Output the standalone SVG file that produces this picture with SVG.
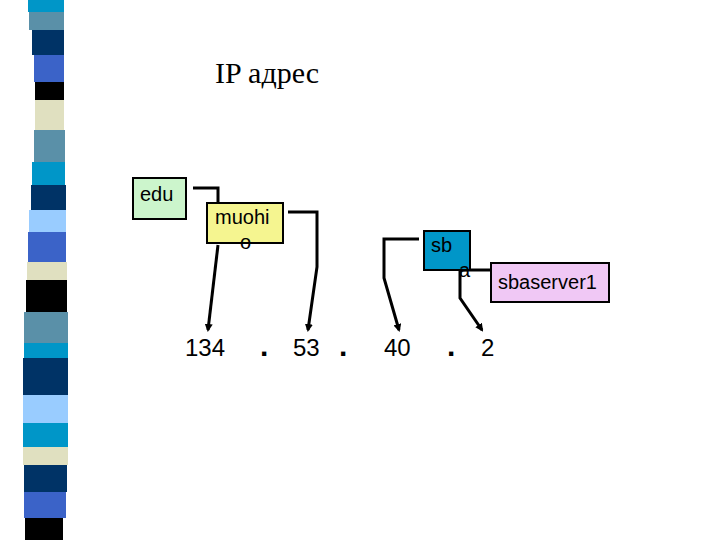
<svg xmlns="http://www.w3.org/2000/svg" width="720" height="540" viewBox="0 0 720 540">
<defs>
<style>
.t{font-family:"Liberation Sans",Arial,sans-serif;font-size:20px;fill:#000}
.n{font-family:"Liberation Sans",Arial,sans-serif;font-size:24px;fill:#000}
.d{font-family:"Liberation Sans",Arial,sans-serif;font-size:30px;font-weight:bold;fill:#000}
.b{stroke:#000;stroke-width:2}
.c{fill:none;stroke:#000;stroke-width:3}
</style>
<marker id="ah" markerWidth="8" markerHeight="8" refX="6" refY="4" orient="auto" markerUnits="userSpaceOnUse" viewBox="0 0 8 8"><path d="M0,0 L8,4 L0,8 z" fill="#000"/></marker>
</defs>
<rect width="720" height="540" fill="#fff"/>
<g id="stripes">
<rect x="28" y="0" width="36" height="12" fill="#0096c8"/>
<rect x="29" y="12" width="35" height="18" fill="#5a90a8"/>
<rect x="32" y="30" width="32" height="25" fill="#003366"/>
<rect x="34" y="55" width="30" height="27" fill="#3b63c8"/>
<rect x="35" y="82" width="29" height="18" fill="#000"/>
<rect x="35" y="100" width="29" height="30" fill="#e0e0c0"/>
<rect x="34" y="130" width="31" height="32" fill="#5a90a8"/>
<rect x="32" y="162" width="33" height="23" fill="#0096c8"/>
<rect x="31" y="185" width="35" height="25" fill="#003366"/>
<rect x="29" y="210" width="37" height="22" fill="#99ccff"/>
<rect x="28" y="232" width="38" height="30" fill="#3b63c8"/>
<rect x="27" y="262" width="40" height="18" fill="#e0e0c0"/>
<rect x="26" y="280" width="41" height="32" fill="#000"/>
<rect x="24" y="312" width="44" height="31" fill="#5a90a8"/>
<rect x="24" y="343" width="44" height="15" fill="#0096c8"/>
<rect x="23" y="358" width="45" height="37" fill="#003366"/>
<rect x="23" y="395" width="45" height="28" fill="#99ccff"/>
<rect x="23" y="423" width="45" height="24" fill="#0096c8"/>
<rect x="23" y="447" width="45" height="18" fill="#e0e0c0"/>
<rect x="24" y="465" width="43" height="27" fill="#003366"/>
<rect x="24" y="492" width="42" height="26" fill="#3b63c8"/>
<rect x="25" y="518" width="38" height="22" fill="#000"/>
</g>
<text x="215" y="83" font-family="Liberation Serif,serif" font-size="30">IP адрес</text>
<g id="connectors">
<polyline class="c" points="193,188 218,188 218,203"/>
<polyline class="c" points="218,245 208,330" marker-end="url(#ah)"/>
<polyline class="c" points="288,212 317,212 317,267 308,330" marker-end="url(#ah)"/>
<polyline class="c" points="419,239 384,239 384,278 399,330" marker-end="url(#ah)"/>
<polyline class="c" points="460,270 490,270"/>
<polyline class="c" points="460,270 460,298 482,330" marker-end="url(#ah)"/>
</g>
<g id="edu"><rect class="b" x="133" y="178" width="53" height="41" fill="#ccf5cc"/><text class="t" x="140" y="201">edu</text></g>
<g id="muohio"><rect class="b" x="207" y="203" width="76" height="40" fill="#f5f590"/><text class="t" x="215" y="224">muohi</text><text class="t" x="240" y="249">o</text></g>
<g id="sba"><rect class="b" x="424" y="231" width="46" height="39" fill="#0096c8"/><text class="t" x="431" y="252">sb</text><text class="t" x="459" y="277">a</text></g>
<g id="sbaserver1"><rect class="b" x="491" y="263" width="118" height="39" fill="#f0c8f5"/><text class="t" x="498" y="289">sbaserver1</text></g>
<g id="ip">
<text class="n" x="185" y="356">134</text>
<text class="d" x="260" y="356">.</text>
<text class="n" x="293" y="356">53</text>
<text class="d" x="339" y="356">.</text>
<text class="n" x="384" y="356">40</text>
<text class="d" x="447" y="356">.</text>
<text class="n" x="481" y="356">2</text>
</g>
</svg>
